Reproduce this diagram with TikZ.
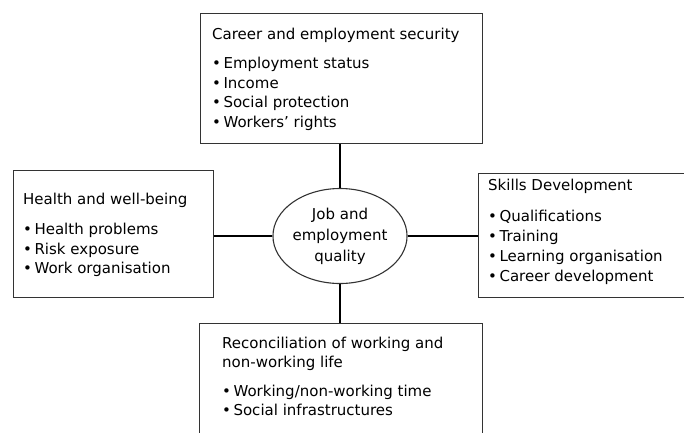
\documentclass[tikz,border=0pt]{standalone}
\usepackage{fontspec}
\setmainfont{DejaVu Sans}
\usetikzlibrary{shapes.geometric}

\begin{document}
\begin{tikzpicture}[x=1pt, y=-1pt,
    dimbox/.style={draw=black!80, line width=1.4pt, anchor=north west, inner sep=0pt},
    dimtext/.style={anchor=north west, align=left, inner sep=0pt, font=\fontsize{15}{19.5}\selectfont},
    link/.style={black, line width=1.2pt}]

    % Frame of the figure
    \useasboundingbox (0,0) rectangle (684,432);
    \clip (0,0) rectangle (684,432);

    % Central theme
    \node[ellipse, draw=black!80, line width=1.1pt, minimum width=128pt, minimum height=95pt,
          inner sep=0pt, align=center, font=\fontsize{15}{21}\selectfont]
         (quality) at (340,236) {Job and\\employment\\quality};

    % Top: career and employment security
    \node[dimbox, minimum width=282pt, minimum height=130pt] (career) at (200,13) {};
    \node[dimtext] (careertext) at (212,27.5)
         {Career and employment security\\[10pt]
          •\,Employment status\\
          •\,Income\\
          •\,Social protection\\
          •\,Workers' rights};

    % Left: health and well-being
    \node[dimbox, minimum width=200pt, minimum height=127pt] (health) at (13,170) {};
    \node[dimtext] (healthtext) at (23,192.5)
         {Health and well-being\\[11pt]
          •\,Health problems\\
          •\,Risk exposure\\
          •\,Work organisation};

    % Right: skills development
    \node[dimbox, minimum width=220pt, minimum height=124pt] (skills) at (478,173) {};
    \node[dimtext, font=\fontsize{15}{20.2}\selectfont] (skillstext) at (488,178.5)
         {Skills Development\\[11pt]
          •\,Qualifications\\
          •\,Training\\
          •\,Learning organisation\\
          •\,Career development};

    % Bottom: working and non-working life
    \node[dimbox, minimum width=283pt, minimum height=130pt] (balance) at (199,323) {};
    \node[dimtext] (balancetext) at (222,336.5)
         {Reconciliation of working and\\
          non-working life\\[9pt]
          •\,Working/non-working time\\
          •\,Social infrastructures};

    % Links from the centre to each box
    \draw[link] (quality.north) -- (quality.north |- career.south);
    \draw[link] (quality.south) -- (quality.south |- balance.north);
    \draw[link] (quality.west) -- (quality.west -| health.east);
    \draw[link] (quality.east) -- (quality.east -| skills.west);

\end{tikzpicture}
\end{document}
